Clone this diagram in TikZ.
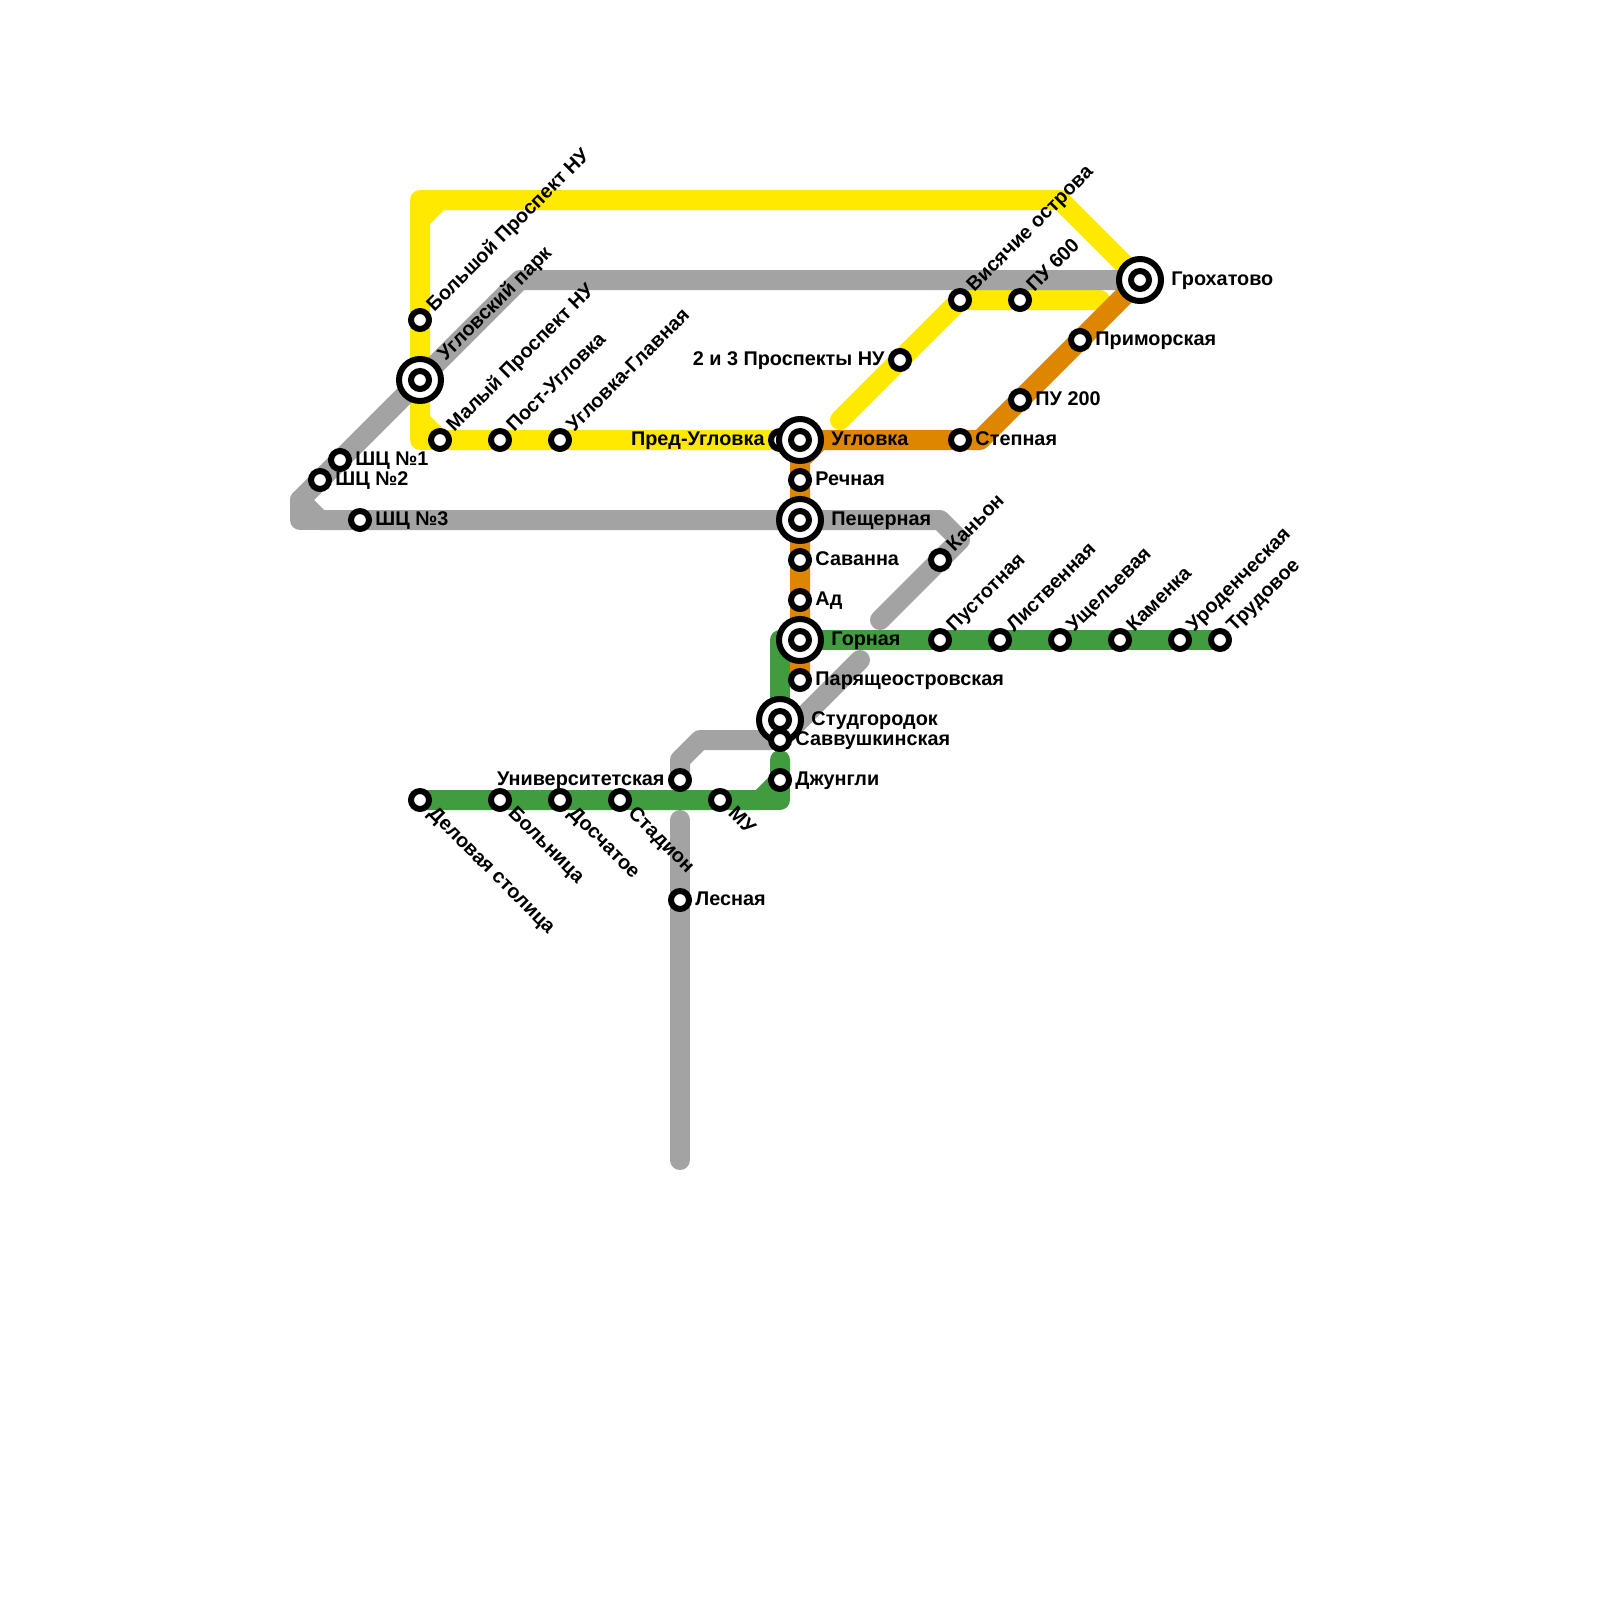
\documentclass[tikz,border=0pt]{standalone}
\usepackage{fontspec}
\setmainfont{Liberation Sans}
\usetikzlibrary{backgrounds}
\definecolor{lineYellow}{RGB}{255,233,0}
\definecolor{lineOrange}{RGB}{223,134,0}
\definecolor{lineGreen}{RGB}{65,156,63}
\definecolor{lineGrey}{RGB}{163,163,163}

\begin{document}
\begin{tikzpicture}[
  stn/.style={circle,draw=black,fill=white,line width=0.15cm,minimum size=0.45cm,inner sep=0,outer sep=0},
  hub/.style={circle,draw=black,fill=white,line width=0.15cm,minimum size=1.05cm,inner sep=0,outer sep=0},
  rail/.style={line width=0.5cm,line cap=round,line join=round},
  lbl/.style={font=\bfseries\fontsize{14.1}{16}\selectfont,inner sep=0,text=black,text height=10pt,text depth=3pt},
  lr/.style={lbl,anchor=west,xshift=0.38cm,yshift=-0.02cm},
  lhub/.style={lbl,anchor=west,xshift=0.78cm,yshift=-0.02cm},
  ll/.style={lbl,anchor=east,xshift=-0.38cm,yshift=-0.02cm},
  lne/.style={lbl,anchor=west,rotate=45,xshift=0.38cm},
  lse/.style={lbl,anchor=west,rotate=-45,xshift=0.38cm}
]
  \useasboundingbox (0,0) rectangle (40,-40);

  % yellow
  \node[stn](bolp)  at (10.5,-8)   {};
  \node[hub](uglp)  at (10.5,-9.5) {};
  \node[stn](uglpi) at (10.5,-9.5) {};
  \node[stn](malp)  at (11,-11)    {};
  \node[stn](post)  at (12.5,-11)  {};
  \node[stn](uglg)  at (14,-11)    {};
  \node[stn](pred)  at (19.5,-11)  {};
  % orange
  \node[hub](ugl)   at (20,-11)    {};
  \node[stn](ugli)  at (20,-11)    {};
  \node[stn](rech)  at (20,-12)    {};
  \node[hub](pesh)  at (20,-13)    {};
  \node[stn](peshi) at (20,-13)    {};
  \node[stn](sav)   at (20,-14)    {};
  \node[stn](ad)    at (20,-15)    {};
  \node[hub](gor)   at (20,-16)    {};
  \node[stn](gori)  at (20,-16)    {};
  \node[stn](par)   at (20,-17)    {};
  \node[stn](step)  at (24,-11)    {};
  \node[stn](pu2)   at (25.5,-10)  {};
  \node[stn](prim)  at (27,-8.5)   {};
  \node[hub](groh)  at (28.5,-7)   {};
  \node[stn](grohi) at (28.5,-7)   {};
  \node[stn](pro23) at (22.5,-9)   {};
  \node[stn](vis)   at (24,-7.5)   {};
  \node[stn](pu6)   at (25.5,-7.5) {};
  % grey
  \node[stn](shc1)  at (8.5,-11.5) {};
  \node[stn](shc2)  at (8,-12)     {};
  \node[stn](shc3)  at (9,-13)     {};
  \node[stn](kan)   at (23.5,-14)  {};
  \node[stn](univ)  at (17,-19.5)  {};
  \node[stn](les)   at (17,-22.5)  {};
  % green
  \node[stn](pust)  at (23.5,-16)  {};
  \node[stn](list)  at (25,-16)    {};
  \node[stn](usch)  at (26.5,-16)  {};
  \node[stn](kam)   at (28,-16)    {};
  \node[stn](urod)  at (29.5,-16)  {};
  \node[stn](trud)  at (30.5,-16)  {};
  \node[hub](stud)  at (19.5,-18)  {};
  \node[stn](studi) at (19.5,-18)  {};
  \node[stn](savv)  at (19.5,-18.5){};
  \node[stn](dzh)   at (19.5,-19.5){};
  \node[stn](mu)    at (18,-20)    {};
  \node[stn](stad)  at (15.5,-20)  {};
  \node[stn](dos)   at (14,-20)    {};
  \node[stn](bol)   at (12.5,-20)  {};
  \node[stn](del)   at (10.5,-20)  {};

  \coordinate (yA) at (10.5,-11);
  \coordinate (yB) at (10.5,-10.5);
  \coordinate (yC) at (10.5,-5.5);
  \coordinate (yD) at (10.5,-5);
  \coordinate (yE) at (11,-5);
  \coordinate (yF) at (26.5,-5);
  \coordinate (yG) at (21,-10.5);
  \coordinate (yH) at (27.5,-7.5);
  \coordinate (oA) at (24.5,-11);
  \coordinate (oB) at (20.5,-11);
  \coordinate (oC) at (20,-11.5);
  \coordinate (gA) at (13,-7);
  \coordinate (gB) at (7.5,-12.5);
  \coordinate (gC) at (7.5,-13);
  \coordinate (gD) at (8,-13);
  \coordinate (gE) at (23.5,-13);
  \coordinate (gF) at (24,-13.5);
  \coordinate (gG) at (22,-15.5);
  \coordinate (gH) at (21.5,-16.5);
  \coordinate (gI) at (17.5,-18.5);
  \coordinate (gJ) at (17,-19);
  \coordinate (gK) at (17,-20.5);
  \coordinate (gL) at (17,-29);
  \coordinate (nA) at (19.5,-16);
  \coordinate (nB) at (19.5,-19);
  \coordinate (nC) at (19.5,-20);
  \coordinate (nD) at (19,-20);

  \begin{pgfonlayer}{background}
    \draw[rail,lineYellow](pred.center)--(malp.center)--(yB)--(yC)--(yE)--(yF)--(groh.center);
    \draw[rail,lineYellow](malp.center)--(yA)--(yB);
    \draw[rail,lineYellow](yC)--(yD)--(yE);
    \draw[rail,lineYellow](yG)--(vis.center)--(yH);
    \draw[rail,lineGrey](groh.center)--(gA)--(gB)--(gD)--(gE)--(gF)--(gG);
    \draw[rail,lineGrey](gB)--(gC)--(gD);
    \draw[rail,lineGrey](gH)--(savv.center)--(gI)--(gJ)--(univ.center);
    \draw[rail,lineGrey](gK)--(gL);
    \draw[rail,lineGreen](trud.center)--(nA)--(stud.center);
    \draw[rail,lineGreen](nB)--(dzh.center)--(nD)--(del.center);
    \draw[rail,lineGreen](dzh.center)--(nC)--(nD);
    \draw[rail,lineOrange](par.center)--(oC)--(oB)--(oA)--(groh.center);
  \end{pgfonlayer}

  \node[lne] (t-bolp) at (bolp) {Большой Проспект НУ};
  \node[lne,xshift=0.4cm] (t-uglp) at (uglp) {Угловский парк};
  \node[lne] (t-malp) at (malp) {Малый Проспект НУ};
  \node[lne] (t-post) at (post) {Пост-Угловка};
  \node[lne] (t-uglg) at (uglg) {Угловка-Главная};
  \node[ll]  (t-pred) at (pred) {Пред-Угловка};
  \node[lhub](t-ugl)  at (ugl)  {Угловка};
  \node[lr]  (t-rech) at (rech) {Речная};
  \node[lhub](t-pesh) at (pesh) {Пещерная};
  \node[lr]  (t-sav)  at (sav)  {Саванна};
  \node[lr]  (t-ad)   at (ad)   {Ад};
  \node[lhub](t-gor)  at (gor)  {Горная};
  \node[lr]  (t-par)  at (par)  {Парящеостровская};
  \node[lr]  (t-step) at (step) {Степная};
  \node[lr]  (t-pu2)  at (pu2)  {ПУ 200};
  \node[lr]  (t-prim) at (prim) {Приморская};
  \node[lhub](t-groh) at (groh) {Грохатово};
  \node[ll]  (t-pro)  at (pro23){2 и 3 Проспекты НУ};
  \node[lne] (t-vis)  at (vis)  {Висячие острова};
  \node[lne] (t-pu6)  at (pu6)  {ПУ 600};
  \node[lr]  (t-shc1) at (shc1) {ШЦ №1};
  \node[lr]  (t-shc2) at (shc2) {ШЦ №2};
  \node[lr]  (t-shc3) at (shc3) {ШЦ №3};
  \node[lne] (t-kan)  at (kan)  {Каньон};
  \node[ll]  (t-univ) at (univ) {Университетская};
  \node[lr]  (t-les)  at (les)  {Лесная};
  \node[lne] (t-pust) at (pust) {Пустотная};
  \node[lne] (t-list) at (list) {Лиственная};
  \node[lne] (t-usch) at (usch) {Ущельевая};
  \node[lne] (t-kam)  at (kam)  {Каменка};
  \node[lne] (t-urod) at (urod) {Уроденческая};
  \node[lne] (t-trud) at (trud) {Трудовое};
  \node[lhub](t-stud) at (stud) {Студгородок};
  \node[lr]  (t-savv) at (savv) {Саввушкинская};
  \node[lr]  (t-dzh)  at (dzh)  {Джунгли};
  \node[lse] (t-mu)   at (mu)   {МУ};
  \node[lse] (t-stad) at (stad) {Стадион};
  \node[lse] (t-dos)  at (dos)  {Досчатое};
  \node[lse] (t-bol)  at (bol)  {Больница};
  \node[lse] (t-del)  at (del)  {Деловая столица};
\end{tikzpicture}
\end{document}
